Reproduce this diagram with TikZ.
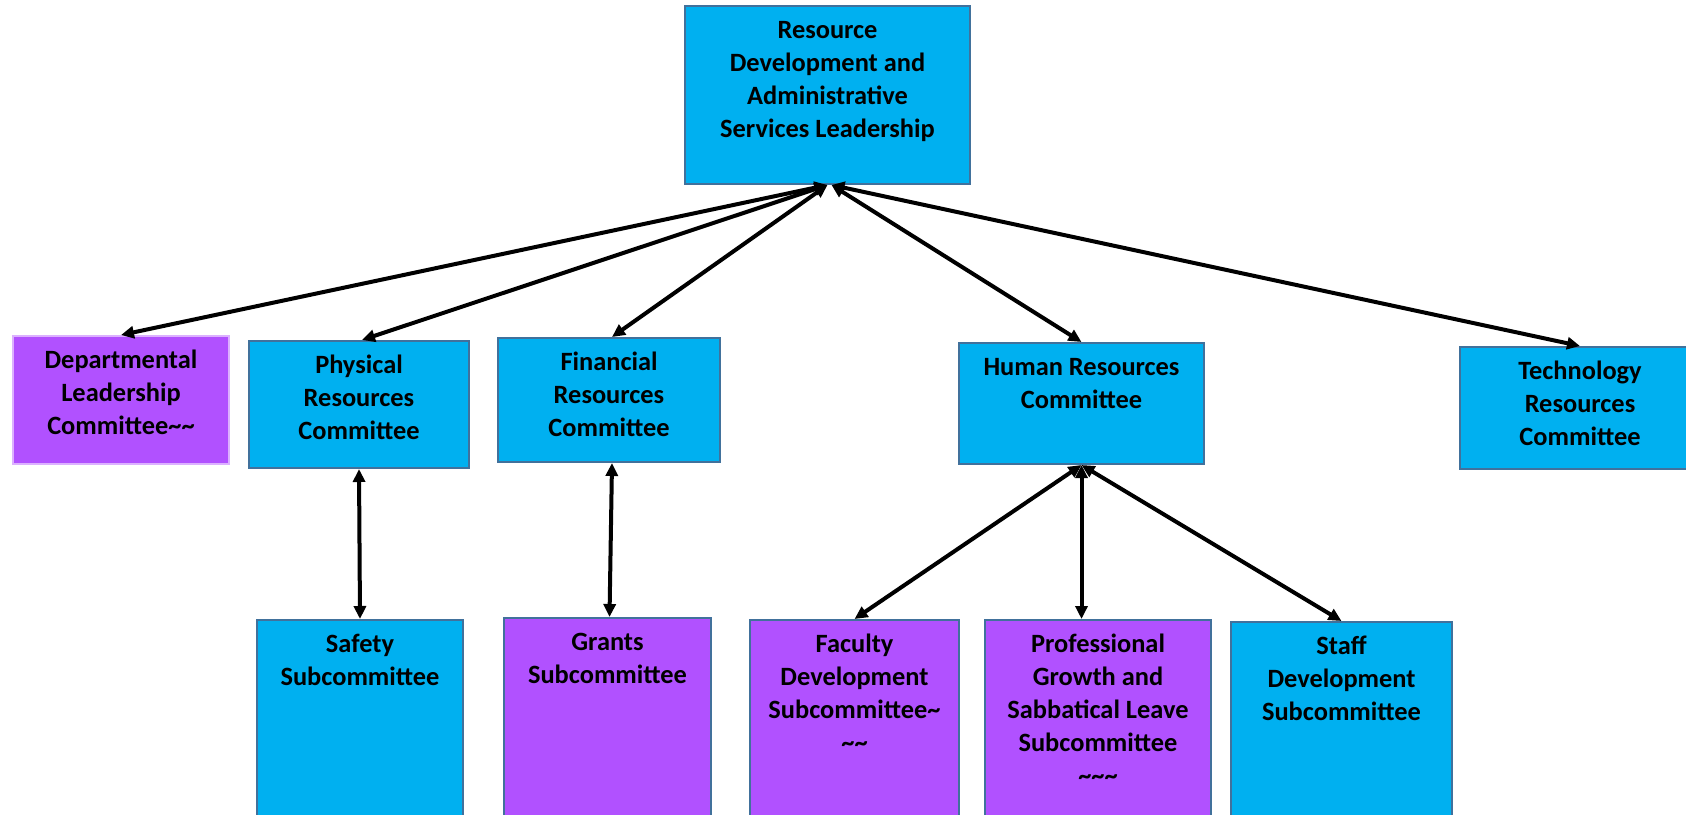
\documentclass[tikz,border=0pt]{standalone}
\usepackage{fontspec}
\setmainfont{Carlito}
\usepackage{xcolor}
\usetikzlibrary{positioning,calc,arrows.meta}
\definecolor{boxblue}{HTML}{00B0F0}
\definecolor{boxpurple}{HTML}{B151FF}
\definecolor{boxedge}{HTML}{41719C}

\begin{document}
\begin{tikzpicture}[x=0.5pt, y=-0.5pt,
    unit/.style={draw=boxedge, line width=1pt, anchor=north, inner sep=0pt},
    blueunit/.style={unit, fill=boxblue},
    purpleunit/.style={unit, fill=boxpurple},
    txt/.style={align=center, inner sep=0pt, font=\bfseries\fontsize{13.2pt}{16.5pt}\selectfont},
    link/.style={line width=2pt, {Triangle[length=6.5pt,width=6pt]}-{Triangle[length=6.5pt,width=6pt]}}]
    \useasboundingbox (0,0) rectangle (1686,814);
    % Leadership
    \node [blueunit, minimum width=142.5pt, minimum height=89pt] (lead) at (827.5, 5) {};
    \node [txt, below=4.75pt of lead.north] (leadT) {\strut Resource\\Development and\\Administrative\\Services Leadership};
    % Committees
    \node [purpleunit, draw=boxpurple!45!white, minimum width=108pt, minimum height=64pt] (dept) at (121, 335) {};
    \node [txt, below=4.75pt of dept.north] (deptT) {\strut Departmental\\Leadership\\Committee\textasciitilde\textasciitilde};
    \node [blueunit, minimum width=110pt, minimum height=63.5pt] (phys) at (359, 340) {};
    \node [txt, below=4.75pt of phys.north] (physT) {\strut Physical\\Resources\\Committee};
    \node [blueunit, minimum width=111pt, minimum height=62pt] (fin) at (609, 337) {};
    \node [txt, below=4.75pt of fin.north] (finT) {\strut Financial\\Resources\\Committee};
    \node [blueunit, minimum width=122.5pt, minimum height=60.5pt] (hr) at (1081.5, 342) {};
    \node [txt, below=4.75pt of hr.north] (hrT) {\strut Human Resources\\Committee};
    \node [blueunit, minimum width=120pt, minimum height=61pt] (tech) at (1580, 346) {};
    \node [txt, below=4.75pt of tech.north] (techT) {\strut Technology\\Resources\\Committee};
    % Subcommittees
    \node [blueunit, minimum width=103pt, minimum height=110pt] (safety) at (360, 619) {};
    \node [txt, below=4.75pt of safety.north] (safetyT) {\strut Safety\\Subcommittee};
    \node [purpleunit, minimum width=103.5pt, minimum height=110pt] (grants) at (607.5, 617) {};
    \node [txt, below=4.75pt of grants.north] (grantsT) {\strut Grants\\Subcommittee};
    \node [purpleunit, minimum width=104.5pt, minimum height=110pt] (fac) at (854.5, 619) {};
    \node [txt, below=4.75pt of fac.north] (facT) {\strut Faculty\\Development\\Subcommittee\textasciitilde\\\textasciitilde\textasciitilde};
    \node [purpleunit, minimum width=113pt, minimum height=110pt] (prof) at (1098, 619) {};
    \node [txt, below=4.75pt of prof.north] (profT) {\strut Professional\\Growth and\\Sabbatical Leave\\Subcommittee\\\textasciitilde\textasciitilde\textasciitilde};
    \node [blueunit, minimum width=110.5pt, minimum height=110pt] (staff) at (1341.5, 621) {};
    \node [txt, below=4.75pt of staff.north] (staffT) {\strut Staff\\Development\\Subcommittee};
    % Connectors
    \coordinate (leadR) at ($(lead.south)+(4,0)$);
    \draw [link] (lead.south) -- (dept.north);
    \draw [link] (lead.south) -- ($(phys.north)+(3,0)$);
    \draw [link] (lead.south) -- ($(fin.north)+(3,0)$);
    \draw [link] (leadR) -- (hr.north);
    \draw [link] (leadR) -- (tech.north);
    \draw [link] (phys.south) -- (safety.north);
    \draw [link] ($(fin.south)+(3,0)$) -- ($(grants.north)+(2,0)$);
    \draw [link] (hr.south) -- (fac.north);
    \draw [link] (hr.south) -- (hr.south |- prof.north);
    \draw [link] (hr.south) -- (staff.north);
\end{tikzpicture}
\end{document}
